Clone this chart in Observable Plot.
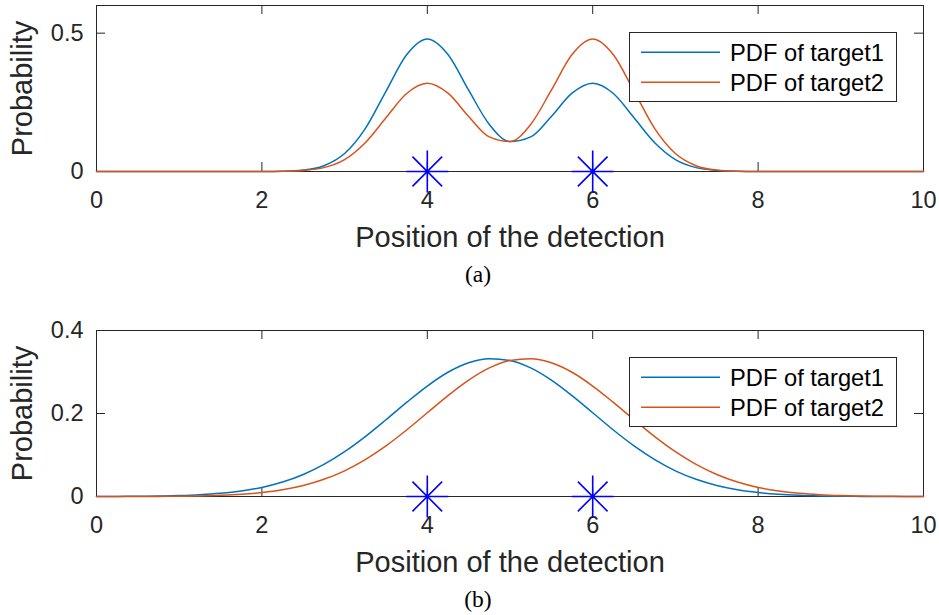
<!DOCTYPE html>
<html>
<head>
<meta charset="utf-8">
<script src="https://cdn.jsdelivr.net/npm/d3@7"></script>
<script src="https://cdn.jsdelivr.net/npm/@observablehq/plot@0.6"></script>
<style>
  html, body { margin: 0; padding: 0; background: #fff; }
  #fig { position: relative; width: 939px; height: 615px; overflow: hidden; background: #fff; }
  #fig svg.panel { position: absolute; left: 0; }
  #overlay { position: absolute; left: 0; top: 0; }
</style>
</head>
<body>
<div id="fig"></div>
<script>
// ---- data ----
const xs = [0,0.25,0.5,0.75,1,1.25,1.5,1.75,2,2.25,2.5,2.75,3,3.25,3.5,3.75,4,4.25,4.5,4.75,5,5.25,5.5,5.75,6,6.25,6.5,6.75,7,7.25,7.5,7.75,8,8.25,8.5,8.75,9,9.25,9.5,9.75,10];

// panel (a)
const aTarget1 = [0,0,0,0,0,0,0,0,0.0002,0.001,0.005,0.021,0.065,0.155,0.290,0.422,0.479,0.423,0.294,0.170,0.108,0.125,0.199,0.283,0.319,0.282,0.194,0.104,0.043,0.014,0.004,0.001,0.0001,0,0,0,0,0,0,0,0];
const aTarget2 = [0,0,0,0,0,0,0,0,0.0001,0.001,0.004,0.014,0.043,0.104,0.194,0.282,0.319,0.283,0.199,0.125,0.108,0.170,0.294,0.423,0.479,0.422,0.290,0.155,0.065,0.021,0.005,0.001,0.0002,0,0,0,0,0,0,0,0];

// panel (b)
const bTarget1 = [0.0001,0.0003,0.0005,0.0011,0.0022,0.0042,0.0076,0.0132,0.0219,0.0348,0.0530,0.0773,0.1080,0.1444,0.1849,0.2267,0.2662,0.2994,0.3223,0.3322,0.3279,0.3099,0.2805,0.2431,0.2017,0.1602,0.1219,0.0888,0.0619,0.0414,0.0265,0.0162,0.0095,0.0053,0.0029,0.0015,0.0007,0.0003,0.0002,0.0001,0.0000];
const bTarget2 = [0.0000,0.0001,0.0002,0.0003,0.0007,0.0015,0.0029,0.0053,0.0095,0.0162,0.0265,0.0414,0.0619,0.0888,0.1219,0.1602,0.2017,0.2431,0.2805,0.3099,0.3279,0.3322,0.3223,0.2994,0.2662,0.2267,0.1849,0.1444,0.1080,0.0773,0.0530,0.0348,0.0219,0.0132,0.0076,0.0042,0.0022,0.0011,0.0005,0.0003,0.0001];

// detections
const detX = [4, 6];
const detY = [0, 0];

// ticks & labels
const xTicks = [0, 2, 4, 6, 8, 10];
const aYTicks = [0, 0.5];
const bYTicks = [0, 0.2, 0.4];
const seriesNames = ["PDF of target1", "PDF of target2"];
const xLabel = "Position of the detection";
const yLabel = "Probability";
const captions = ["(a)", "(b)"];

// ---- styling ----
const colors = ["#0072BD", "#D95319"];
const axisColor = "#262626";
const sans = "'Liberation Sans', Arial, Helvetica, sans-serif";
const W = 939, H = 250, MT = 5, MB = 79, ML = 96, MR = 16;
const innerW = W - ML - MR, innerH = H - MT - MB;
const panelOffset = 325;

const matStar = {
  draw(context, size) {
    const r = Math.sqrt(size / Math.PI);
    const d = r * Math.SQRT1_2;
    context.moveTo(-r, 0); context.lineTo(r, 0);
    context.moveTo(0, -r); context.lineTo(0, r);
    context.moveTo(-d, -d); context.lineTo(d, d);
    context.moveTo(-d, d); context.lineTo(d, -d);
  }
};

const fmt = d3.format("~g");

function panel(s1, s2, yDomain, yTicks) {
  const d1 = xs.map((x, i) => ({x, y: s1[i]}));
  const d2 = xs.map((x, i) => ({x, y: s2[i]}));
  const dets = detX.map((x, i) => ({x, y: detY[i]}));
  return Plot.plot({
    width: W, height: H,
    marginTop: MT, marginBottom: MB, marginLeft: ML, marginRight: MR,
    style: {fontFamily: sans, background: "transparent", overflow: "visible"},
    x: {domain: [0, 10]},
    y: {domain: yDomain},
    marks: [
      Plot.axisX({ticks: xTicks, tickSize: 0, tickPadding: 20, fontSize: 23.5, color: axisColor, label: null, tickFormat: fmt}),
      Plot.axisY({ticks: yTicks, tickSize: 0, tickPadding: 13, fontSize: 23.5, color: axisColor, label: null, tickFormat: fmt}),
      Plot.tickX(xTicks, {x: d => d, insetTop: innerH - 9, stroke: axisColor}),
      Plot.tickX(xTicks, {x: d => d, insetBottom: innerH - 9, stroke: axisColor}),
      Plot.tickY(yTicks, {y: d => d, insetRight: innerW - 9, stroke: axisColor}),
      Plot.tickY(yTicks, {y: d => d, insetLeft: innerW - 9, stroke: axisColor}),
      Plot.frame({stroke: axisColor, strokeWidth: 1}),
      Plot.line(d1, {x: "x", y: "y", stroke: colors[0], strokeWidth: 1.5, curve: "monotone-x"}),
      Plot.line(d2, {x: "x", y: "y", stroke: colors[1], strokeWidth: 1.5, curve: "monotone-x"}),
      Plot.dot(dets, {x: "x", y: "y", symbol: matStar, r: 21, fill: "none", stroke: "#0000FF", strokeWidth: 1.6}),
      Plot.text([xLabel], {text: d => d, frameAnchor: "bottom", textAnchor: "middle", lineAnchor: "top", dy: 55, fontSize: 29, fill: axisColor}),
      Plot.text([yLabel], {text: d => d, frameAnchor: "left", textAnchor: "middle", lineAnchor: "middle", rotate: -90, dx: -74, fontSize: 29, fill: axisColor})
    ]
  });
}

const fig = document.getElementById("fig");
const pa = panel(aTarget1, aTarget2, [0, 0.6], aYTicks);
pa.classList.add("panel"); pa.style.top = "0px";
fig.appendChild(pa);
const pb = panel(bTarget1, bTarget2, [0, 0.4], bYTicks);
pb.classList.add("panel"); pb.style.top = panelOffset + "px";
fig.appendChild(pb);

// overlay: legends and captions
const ov = d3.select(fig).append("svg").attr("id", "overlay").attr("width", W).attr("height", 615);
[0, 1].forEach(p => {
  const oy = p * panelOffset;
  const g = ov.append("g").attr("transform", `translate(0,${oy})`);
  g.append("rect").attr("x", 629.5).attr("y", 32.5).attr("width", 267).attr("height", 69)
    .attr("fill", "#fff").attr("stroke", axisColor).attr("stroke-width", 1);
  seriesNames.forEach((name, i) => {
    const ly = 52.3 + i * 30;
    g.append("line").attr("x1", 641).attr("x2", 720).attr("y1", ly).attr("y2", ly)
      .attr("stroke", colors[i]).attr("stroke-width", 1.5);
    g.append("text").attr("x", 730).attr("y", ly + 8.3).attr("font-family", sans)
      .attr("font-size", 23.7).attr("fill", "#000").text(name);
  });
  g.append("text").attr("x", 478).attr("y", 281.5).attr("text-anchor", "middle")
    .attr("font-family", "'Liberation Serif', 'Times New Roman', serif").attr("font-size", 23.5)
    .attr("fill", "#000").text(captions[p]);
});
</script>
</body>
</html>
